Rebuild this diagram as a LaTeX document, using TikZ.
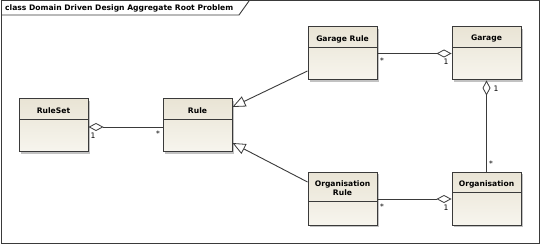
\documentclass[tikz,border=0pt]{standalone}
\usepackage{fontspec}
\setmainfont{DejaVu Sans}
\usetikzlibrary{arrows.meta,shadows}
\definecolor{boxtop}{HTML}{E9E4D5}
\definecolor{boxbot}{HTML}{F7F5EE}
\definecolor{lineclr}{HTML}{3A3A3A}
\tikzset{
  umlbox/.style={draw=lineclr, line width=1pt, minimum width=69pt, minimum height=53pt,
    inner sep=0pt, top color=boxtop, bottom color=boxbot,
    drop shadow={shadow xshift=2pt, shadow yshift=-2pt, fill=black!40, opacity=0.6}},
  umlname/.style={font=\bfseries\fontsize{7.6}{9}\selectfont, align=center, inner sep=0pt},
  mult/.style={font=\fontsize{7.6}{8}\selectfont, inner sep=0pt},
  conn/.style={draw=lineclr, line width=0.9pt},
  agg/.style={conn, {Diamond[open, length=15pt, width=8pt, line width=0.8pt, fill=white]}-},
  gen/.style={conn, -{Triangle[open, length=13pt, width=11pt, line width=0.8pt, fill=white]}},
}
\begin{document}
\begin{tikzpicture}[x=1pt,y=-1pt]
\useasboundingbox (0,0) rectangle (540,245);
% frame
\draw[lineclr, line width=1pt] (1,1) rectangle (539,244);
\draw[lineclr, line width=0.9pt] (1,15) -- (239,15) -- (249,1);
\node[font=\bfseries\fontsize{7.6}{8}\selectfont, anchor=west, inner sep=0pt] (title) at (5,8) {class Domain Driven Design Aggregate Root Problem};

% boxes
\node[umlbox] (rs) at (53.5,125.5) {};
\node[umlbox] (rule) at (197.5,125.5) {};
\node[umlbox] (gr) at (342.5,53.5) {};
\node[umlbox] (g) at (486.5,53.5) {};
\node[umlbox] (or) at (342.5,199) {};
\node[umlbox] (org) at (486.5,199) {};

% header dividers
\draw[lineclr, line width=0.9pt] (19,119) -- (88,119);
\draw[lineclr, line width=0.9pt] (163,119) -- (232,119);
\draw[lineclr, line width=0.9pt] (308,47) -- (377,47);
\draw[lineclr, line width=0.9pt] (452,47) -- (521,47);
\draw[lineclr, line width=0.9pt] (308,201) -- (377,201);
\draw[lineclr, line width=0.9pt] (452,192) -- (521,192);

% names
\node[umlname] (rsn) at (53.5,111) {RuleSet};
\node[umlname] (rulen) at (197.5,111) {Rule};
\node[umlname] (grn) at (342.5,39) {Garage Rule};
\node[umlname] (gn) at (486.5,39) {Garage};
\node[umlname] (orn) at (342.5,188.5) {Organisation\\Rule};
\node[umlname] (orgn) at (486.5,184) {Organisation};

% connectors
\draw[agg] ([yshift=-1.5pt]rs.east) -- ([yshift=-1.5pt]rule.west);
\draw[gen] ([yshift=-17.5pt]gr.west) -- ([yshift=18.5pt]rule.east);
\draw[gen] ([yshift=17pt]or.west) -- ([yshift=-17.5pt]rule.east);
\draw[agg] (g.west) -- (gr.east);
\draw[agg] (org.west) -- (or.east);
\draw[agg] (g.south) -- (org.north);

% multiplicities
\node[mult] (m1) at (93,135.5) {1};
\node[mult] (m2) at (158,134) {*};
\node[mult] (m3) at (382,61) {*};
\node[mult] (m4) at (446,62) {1};
\node[mult] (m5) at (496,89) {1};
\node[mult] (m6) at (491,164) {*};
\node[mult] (m7) at (382,207) {*};
\node[mult] (m8) at (446,208) {1};
\end{tikzpicture}
\end{document}
